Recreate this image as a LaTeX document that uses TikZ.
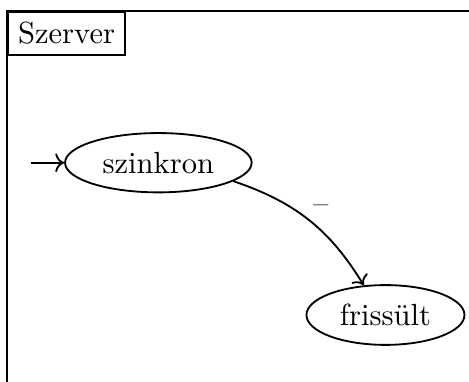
\documentclass[tikz,border=0pt]{standalone}
\usepackage{tikz}
\usetikzlibrary{arrows.meta,positioning,shapes.geometric}

\begin{document}
\begin{tikzpicture}[
    semithick,
    state/.style={ellipse, draw},
    tag/.style={draw, anchor=north west},
    line/.style={->},
    label/.style={midway, above right, inner sep=1pt}
  ]
  \useasboundingbox (0,0) rectangle (5.39,4.38);

  %%%%%%%%%%%%% Frame %%%%%%%%%%%%%
  \coordinate (corner) at (0.08,4.25);
  \draw (corner) rectangle ++(6,-5);
  \node[tag] (szerver) at (corner) {Szerver};

  %%%%%%%%%%%%% States %%%%%%%%%%%%%
  \node[state] (szinkron) at (1.82,2.51) {szinkron};
  \node[state] (frissult) at (4.43,0.76) {frissült};
  \coordinate (start) at (0.36,2.51);

  %%%%%%%%%%%%% Transitions %%%%%%%%%%%%%
  \draw[line] (start) -- (szinkron);
  \draw[line] (szinkron) to[bend left=20] node[label, yshift=1pt] {--} (frissult);

\end{tikzpicture}
\end{document}
